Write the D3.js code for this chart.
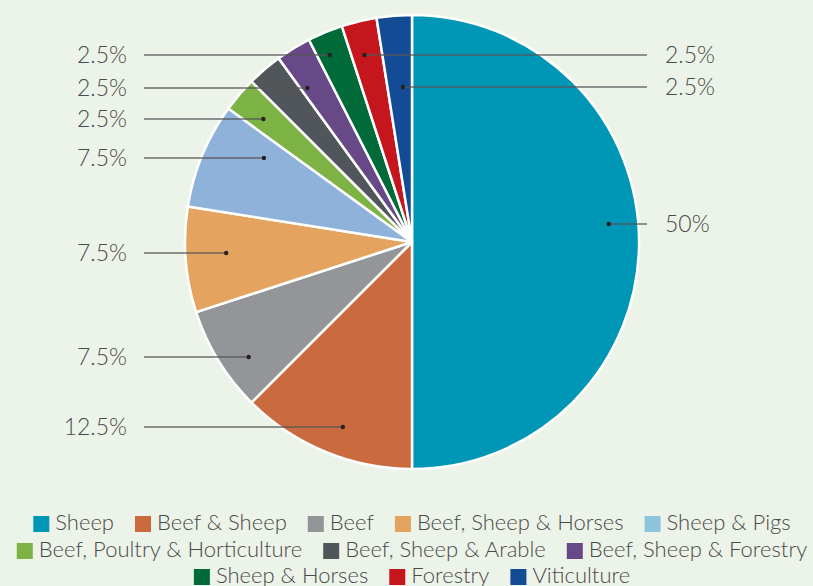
<!DOCTYPE html>
<html>
<head>
<meta charset="utf-8">
<script src="https://cdn.jsdelivr.net/npm/d3@7"></script>
<style>
  html, body { margin: 0; padding: 0; background: #ecf3e8; }
  svg { display: block; }
  text { font-family: Lato, "Open Sans", sans-serif; fill: #4a4a4a; }
</style>
</head>
<body>
<div id="chart"></div>
<script>
// ---- data ----
const categories = ["Sheep", "Beef & Sheep", "Beef", "Beef, Sheep & Horses", "Sheep & Pigs",
  "Beef, Poultry & Horticulture", "Beef, Sheep & Arable", "Beef, Sheep & Forestry",
  "Sheep & Horses", "Forestry", "Viticulture"];
const shares = [50, 12.5, 7.5, 7.5, 7.5, 2.5, 2.5, 2.5, 2.5, 2.5, 2.5];
const colors = ["#0096b5", "#c96b3f", "#939598", "#e4a45f", "#8eb2da",
  "#7db244", "#51565a", "#684987", "#006b38", "#c4161c", "#134b95"];
// the legend swatch for Sheep & Pigs is a lighter blue than its slice
const legendColors = colors.map((c, i) => i === 4 ? "#8ec5dc" : c);
// label text per slice (the arable slice has no label in the original)
const labelText = ["50%", "12.5%", "7.5%", "7.5%", "7.5%", "2.5%", null, "2.5%", "2.5%", "2.5%", "2.5%"];

// ---- label layout (not data) ----
const labelSide = ["right", "left", "left", "left", "left", "left", null, "left", "left", "right", "right"];
const labelY = [224, 427, 357, 253, 158, 119, null, 88, 55, 55, 87];
const dotR = [0.87, 0.87, 0.88, 0.82, 0.75, 0.85, null, 0.82, 0.90, 0.85, 0.684];
const legendRows = [[0, 1, 2, 3, 4], [5, 6, 7], [8, 9, 10]];

const width = 813, height = 586;
const cx = 412, cy = 242, radius = 227;

const svg = d3.select("#chart").append("svg")
  .attr("width", width).attr("height", height);

const pie = d3.pie().sort(null).value(d => d)(shares);
const arc = d3.arc().innerRadius(0).outerRadius(radius);

const g = svg.append("g").attr("transform", `translate(${cx},${cy})`);

g.selectAll("path")
  .data(pie).enter()
  .append("path")
  .attr("d", arc)
  .attr("fill", (d, i) => colors[i])
  .attr("stroke", "#fff")
  .attr("stroke-width", 2.5);

// ---- leader lines + labels ----
const labels = svg.append("g");
pie.forEach((d, i) => {
  if (!labelText[i]) return;
  const y = labelY[i];
  const dy = y - cy;
  const mid = (d.startAngle + d.endAngle) / 2;
  const sign = Math.sin(mid) < 0 ? -1 : 1;
  const rr = dotR[i] * radius;
  const x = cx + sign * Math.sqrt(Math.max(0, rr * rr - dy * dy));
  const side = labelSide[i];
  const x2 = side === "left" ? 144 : 647;
  labels.append("line")
    .attr("x1", x).attr("y1", y).attr("x2", x2).attr("y2", y)
    .attr("stroke", "#555").attr("stroke-opacity", 0.85).attr("stroke-width", 1.4);
  labels.append("circle").attr("cx", x).attr("cy", y).attr("r", 2.2).attr("fill", "#222");
  labels.append("text")
    .attr("x", side === "left" ? 127 : 665)
    .attr("y", y)
    .attr("dy", "0.35em")
    .attr("text-anchor", side === "left" ? "end" : "start")
    .style("font-size", "23px")
    .style("font-weight", 300)
    .text(labelText[i]);
});

// ---- legend ----
const legend = svg.append("g");
const rowBase = [530, 557, 583];
const sw = 16, gapText = 6, gapItem = 21;
legendRows.forEach((row, r) => {
  const rowG = legend.append("g");
  let x = 0;
  row.forEach(i => {
    rowG.append("rect")
      .attr("x", x).attr("y", rowBase[r] - 14).attr("width", sw).attr("height", sw)
      .attr("fill", legendColors[i]);
    const t = rowG.append("text")
      .attr("x", x + sw + gapText).attr("y", rowBase[r])
      .style("font-size", "22px")
      .style("font-weight", 300)
      .text(categories[i]);
    x += sw + gapText + t.node().getComputedTextLength() + gapItem;
  });
  const total = x - gapItem;
  rowG.attr("transform", `translate(${cx - total / 2},0)`);
});
</script>
</body>
</html>
